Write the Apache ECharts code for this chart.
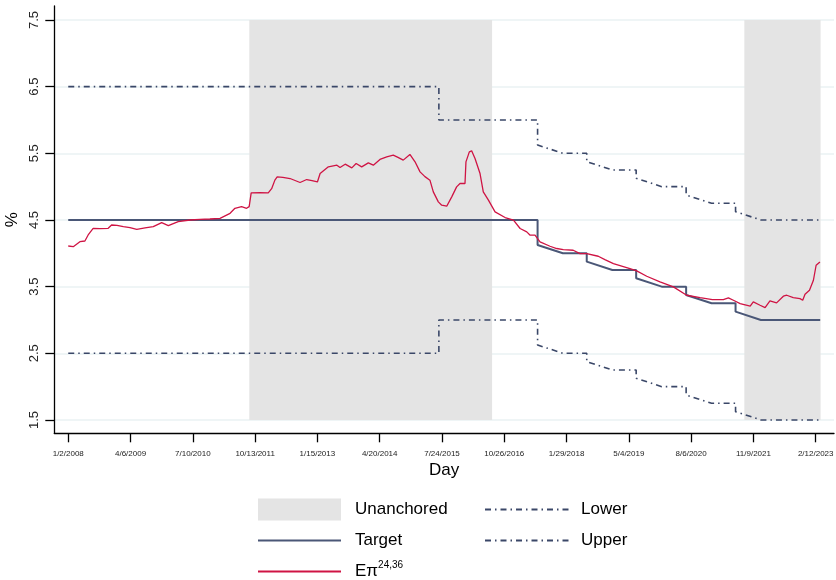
<!DOCTYPE html>
<html>
<head>
<meta charset="utf-8">
<script src="https://cdn.jsdelivr.net/npm/echarts@6/dist/echarts.min.js"></script>
<style>
  html, body { margin: 0; padding: 0; background: #ffffff; }
  #chart { width: 836px; height: 580px; }
</style>
</head>
<body>
<div id="chart"></div>
<script>
// ---------- DATA ----------
const xTickLabels = ['1/2/2008','4/6/2009','7/10/2010','10/13/2011','1/15/2013','4/20/2014','7/24/2015',
  '10/26/2016','1/29/2018','5/4/2019','8/6/2020','11/9/2021','2/12/2023'];
const yTickValues = [1.5, 2.5, 3.5, 4.5, 5.5, 6.5, 7.5];
const xRange = ['2007-09-21', '2023-06-27'];
const yRange = [1.3, 7.71];

const unanchoredStart = ['2011-08-31', '2021-09-03'];
const unanchoredEnd   = ['2016-07-28', '2023-03-20'];
const bandFloor = 1.5, bandCeil = 7.5;

const targetDates = ['2008-01-02','2017-06-29','2017-06-29','2018-01-02','2018-06-27','2018-06-27','2019-01-02',
  '2019-06-27','2019-06-27','2020-01-02','2020-06-30','2020-06-30','2021-01-04','2021-06-30','2021-06-30',
  '2022-01-03','2023-03-17'];
const targetValues = [4.5,4.5,4.125,4.0,4.0,3.875,3.75,3.75,3.625,3.5,3.5,3.375,3.25,3.25,3.125,3.0,3.0];

const bandDates = ['2008-01-02','2015-07-01','2015-07-01','2017-06-29','2017-06-29','2018-01-02','2018-06-27',
  '2018-06-27','2019-01-02','2019-06-27','2019-06-27','2020-01-02','2020-06-30','2020-06-30','2021-01-04',
  '2021-06-30','2021-06-30','2022-01-03','2023-03-17'];
const upperValues = [6.5,6.5,6.0,6.0,5.625,5.5,5.5,5.375,5.25,5.25,5.125,5.0,5.0,4.875,4.75,4.75,4.625,4.5,4.5];
const lowerValues = [2.5,2.5,3.0,3.0,2.625,2.5,2.5,2.375,2.25,2.25,2.125,2.0,2.0,1.875,1.75,1.75,1.625,1.5,1.5];

const expDates = ['2008-01-02','2008-02-08','2008-03-28','2008-05-04','2008-05-28','2008-07-04','2008-08-23',
  '2008-10-23','2008-11-17','2008-12-27','2009-02-12','2009-04-02','2009-05-22','2009-07-22','2009-09-21',
  '2009-11-22','2010-01-10','2010-03-24','2010-06-19','2010-08-31','2010-11-13','2011-01-27','2011-04-11',
  '2011-05-17','2011-07-05','2011-08-11','2011-08-30','2011-09-14','2011-11-17','2012-01-18','2012-02-12',
  '2012-03-07','2012-03-24','2012-05-05','2012-06-27','2012-09-09','2012-10-28','2012-12-06','2013-01-15',
  '2013-02-04','2013-04-06','2013-06-08','2013-07-01','2013-08-08','2013-09-26','2013-10-28','2013-12-08',
  '2014-01-26','2014-03-04','2014-04-22','2014-06-11','2014-07-29','2014-09-02','2014-10-11','2014-11-29',
  '2015-01-06','2015-02-12','2015-03-20','2015-04-26','2015-05-21','2015-06-27','2015-07-22','2015-08-28',
  '2015-10-04','2015-11-09','2015-12-04','2016-01-10','2016-01-17','2016-02-11','2016-02-28','2016-03-24',
  '2016-04-30','2016-05-24','2016-07-01','2016-08-19','2016-11-01','2017-01-02','2017-02-20','2017-04-10',
  '2017-05-05','2017-06-10','2017-07-17','2017-09-29','2017-11-17','2018-01-05','2018-03-19','2018-05-08',
  '2018-06-27','2018-09-20','2018-11-08','2019-01-10','2019-05-12','2019-07-01','2019-09-13','2019-12-20',
  '2020-03-28','2020-07-04','2020-10-11','2021-01-10','2021-04-01','2021-05-08','2021-06-14','2021-08-03',
  '2021-10-16','2021-11-08','2021-12-28','2022-02-03','2022-03-11','2022-04-29','2022-06-18','2022-07-13',
  '2022-08-30','2022-10-19','2022-11-08','2022-11-25','2022-12-28','2023-01-26','2023-02-15','2023-03-15'];
const expValues = [4.11,4.10,4.175,4.185,4.275,4.375,4.37,
  4.375,4.425,4.42,4.40,4.385,4.36,4.38,4.40,
  4.46,4.415,4.475,4.50,4.51,4.515,4.525,4.60,
  4.675,4.70,4.675,4.70,4.907,4.91,4.907,4.97,
  5.098,5.148,5.14,5.122,5.062,5.107,5.09,5.07,
  5.197,5.297,5.322,5.287,5.337,5.282,5.347,5.297,
  5.357,5.322,5.408,5.448,5.473,5.44,5.398,5.483,
  5.373,5.222,5.15,5.097,4.922,4.772,4.722,4.707,
  4.847,4.997,5.047,5.047,5.372,5.522,5.538,5.423,
  5.197,4.922,4.797,4.622,4.537,4.497,4.372,4.322,
  4.272,4.272,4.172,4.106,4.072,4.056,4.046,3.995,
  3.996,3.956,3.906,3.846,3.771,3.736,3.656,3.571,
  3.496,3.371,3.336,3.306,3.306,3.331,3.296,3.246,
  3.206,3.271,3.221,3.186,3.286,3.256,3.356,3.371,
  3.336,3.321,3.296,3.386,3.446,3.596,3.821,3.871];

const seriesNames = { shade: 'Unanchored', target: 'Target', exp: 'Eπ24,36', lower: 'Lower', upper: 'Upper' };

// ---------- HELPERS ----------
function iso(s) { const p = s.split('-'); return Date.UTC(+p[0], +p[1] - 1, +p[2]); }
function mdy(s) { const p = s.split('/'); return Date.UTC(+p[2], +p[0] - 1, +p[1]); }
function pairs(dates, vals) { return dates.map((d, i) => [iso(d), vals[i]]); }

const xTickValues = xTickLabels.map(mdy);
const shadeData = unanchoredStart.map((s, i) => [iso(s), iso(unanchoredEnd[i])]);

const FONT = 'Liberation Sans, Arial, Helvetica, sans-serif';
const shadeColor = '#e4e4e4';
const navy = '#4a5777';
const dashNavy = '#3a4768';
const red = '#cf1444';
const dashDot = [6, 4, 1.5, 4];
const hideSymbol = { opacity: 0 };

const chart = echarts.init(document.getElementById('chart'), null, { renderer: 'canvas' });

const option = {
  animation: false,
  backgroundColor: '#ffffff',
  textStyle: { fontFamily: FONT },
  grid: { left: 54.3, right: 2, top: 6, bottom: 146.7, containLabel: false, outerBoundsMode: 'none' },
  xAxis: {
    type: 'value',
    min: iso(xRange[0]),
    max: iso(xRange[1]),
    name: 'Day',
    nameLocation: 'middle',
    nameGap: 18,
    nameTextStyle: { fontFamily: FONT, fontSize: 17, color: '#000', verticalAlign: 'top' },
    axisLine: { show: true, onZero: false, lineStyle: { color: '#000', width: 1.3 } },
    axisTick: { show: true, length: 9, customValues: xTickValues, lineStyle: { color: '#000', width: 1.3 } },
    axisLabel: {
      customValues: xTickValues,
      fontFamily: FONT, fontSize: 8, color: '#222', margin: 16,
      formatter: function (v) {
        const i = xTickValues.indexOf(v);
        return i >= 0 ? xTickLabels[i] : '';
      }
    },
    splitLine: { show: false }
  },
  yAxis: {
    type: 'value',
    min: yRange[0],
    max: yRange[1],
    name: '%',
    nameLocation: 'middle',
    nameGap: 21,
    nameTextStyle: { fontFamily: FONT, fontSize: 17, color: '#000' },
    axisLine: { show: true, onZero: false, lineStyle: { color: '#000', width: 1.3 } },
    axisTick: { show: true, length: 9, customValues: yTickValues, lineStyle: { color: '#000', width: 1.3 } },
    axisLabel: {
      customValues: yTickValues,
      rotate: 90,
      fontFamily: FONT, fontSize: 13, color: '#222', margin: 13,
      formatter: function (v) { return v.toFixed(1); }
    },
    splitLine: { show: true, lineStyle: { color: '#eaf2f3', width: 1.5 } }
  },
  legend: [
    {
      orient: 'vertical', left: 257, top: 498, height: 110, padding: 0,
      itemWidth: 83, itemHeight: 22, itemGap: 8,
      selectedMode: false,
      data: [
        { name: seriesNames.shade, icon: 'rect' },
        { name: seriesNames.target, itemStyle: hideSymbol },
        { name: seriesNames.exp, itemStyle: hideSymbol }
      ],
      textStyle: {
        fontFamily: FONT, fontSize: 17, color: '#000', lineHeight: 23, padding: [0, 0, 0, 9],
        rich: {
          e: { fontFamily: FONT, fontSize: 17, color: '#000', lineHeight: 23 },
          s: { fontFamily: FONT, fontSize: 10, color: '#000', verticalAlign: 'top', lineHeight: 12, padding: [0, 0, 10, 0] }
        }
      },
      formatter: function (name) {
        if (name === seriesNames.exp) return '{e|Eπ}{s|24,36}';
        return name;
      }
    },
    {
      orient: 'vertical', left: 484, top: 498, height: 110, padding: 0,
      itemWidth: 84, itemHeight: 22, itemGap: 8,
      selectedMode: false,
      data: [
        { name: seriesNames.lower, itemStyle: hideSymbol },
        { name: seriesNames.upper, itemStyle: hideSymbol }
      ],
      textStyle: { fontFamily: FONT, fontSize: 17, color: '#000', lineHeight: 23, padding: [0, 0, 0, 7] }
    }
  ],
  series: [
    {
      name: seriesNames.shade,
      type: 'custom',
      itemStyle: { color: shadeColor },
      encode: { x: [0, 1] },
      data: shadeData,
      z: 1,
      renderItem: function (params, api) {
        const p0 = api.coord([api.value(0), bandCeil]);
        const p1 = api.coord([api.value(1), bandFloor]);
        return {
          type: 'rect',
          shape: { x: p0[0], y: p0[1], width: p1[0] - p0[0], height: p1[1] - p0[1] },
          style: { fill: shadeColor }
        };
      }
    },
    {
      name: seriesNames.lower, type: 'line', showSymbol: false, symbol: 'none', z: 3,
      data: pairs(bandDates, lowerValues),
      itemStyle: { color: dashNavy },
      lineStyle: { color: dashNavy, width: 1.6, type: dashDot }
    },
    {
      name: seriesNames.upper, type: 'line', showSymbol: false, symbol: 'none', z: 3,
      data: pairs(bandDates, upperValues),
      itemStyle: { color: dashNavy },
      lineStyle: { color: dashNavy, width: 1.6, type: dashDot }
    },
    {
      name: seriesNames.target, type: 'line', showSymbol: false, symbol: 'none', z: 4,
      data: pairs(targetDates, targetValues),
      itemStyle: { color: navy },
      lineStyle: { color: navy, width: 2 }
    },
    {
      name: seriesNames.exp, type: 'line', showSymbol: false, symbol: 'none', z: 5,
      data: pairs(expDates, expValues),
      itemStyle: { color: red },
      lineStyle: { color: red, width: 1.3 }
    }
  ]
};

chart.setOption(option);
</script>
</body>
</html>
